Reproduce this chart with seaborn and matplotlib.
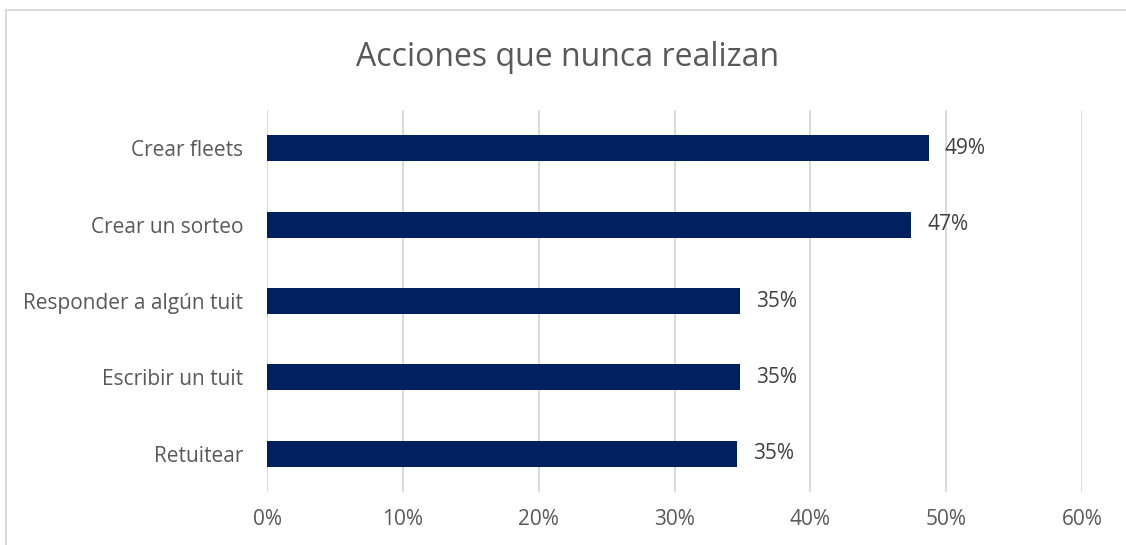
import matplotlib
matplotlib.use("Agg")
import matplotlib.pyplot as plt
import matplotlib.patches as mpatches
from matplotlib.ticker import FuncFormatter
import pandas as pd
import seaborn as sns

# datos
acciones = ["Crear fleets", "Crear un sorteo", "Responder a algún tuit",
            "Escribir un tuit", "Retuitear"]
porcentajes = [48.7, 47.4, 34.8, 34.8, 34.6]
etiquetas = ["49%", "47%", "35%", "35%", "35%"]
ticks_x = [0, 10, 20, 30, 40, 50, 60]

df = pd.DataFrame({"accion": acciones, "pct": porcentajes})

sns.set_theme(style="white")
plt.rcParams["font.family"] = ["Open Sans", "DejaVu Sans"]

fig = plt.figure(figsize=(11.26, 5.45), dpi=100)
ax = fig.add_axes([267 / 1126, 1 - 492 / 545, 815 / 1126, 382 / 545])

sns.barplot(data=df, x="pct", y="accion", orient="h", color="#002060",
            width=0.34, ax=ax, saturation=1, linewidth=0)

for i, (v, t) in enumerate(zip(porcentajes, etiquetas)):
    ax.text(v + 1.2, i, t, va="center", ha="left", fontsize=15, color="#404040")

ax.set_xlim(0, 60)
ax.set_ylim(4.5, -0.5)
ax.set_xticks(ticks_x)
ax.xaxis.set_major_formatter(FuncFormatter(lambda x, p: f"{x:.0f}%"))
ax.grid(axis="x", color="#D9D9D9", linewidth=1.3)
ax.set_axisbelow(True)
for s in ax.spines.values():
    s.set_visible(False)
ax.set_xlabel("")
ax.set_ylabel("")
ax.tick_params(axis="both", length=0, labelsize=15, colors="#595959")
ax.tick_params(axis="x", pad=12)
ax.tick_params(axis="y", pad=17)

fig.text(568 / 1126, 1 - 57 / 545, "Acciones que nunca realizan", ha="center",
         va="center", fontsize=23, color="#595959")

fig.patches.append(mpatches.Rectangle((6 / 1126, -0.05), 1.1, 1 - 10 / 545 + 0.05,
                                      transform=fig.transFigure, fill=False,
                                      edgecolor="#D9D9D9", linewidth=1.3))

fig.savefig("out.png", dpi=100, facecolor="white")
